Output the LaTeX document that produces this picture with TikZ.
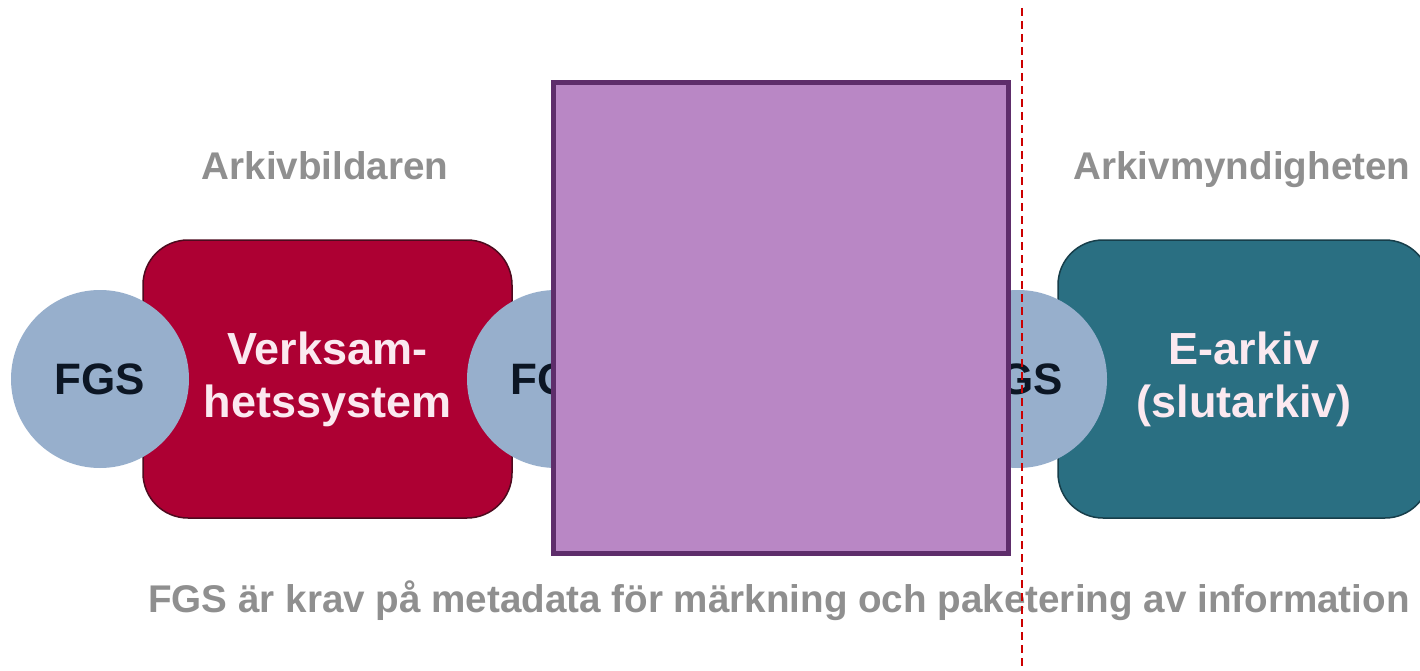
\documentclass[tikz,border=0pt]{standalone}
\usepackage{fontspec}
\setmainfont{Liberation Sans}
\definecolor{fgsblue}{HTML}{97AFCC}
\definecolor{redbox}{HTML}{AD0033}
\definecolor{redline}{HTML}{4E0A1E}
\definecolor{tealbox}{HTML}{2A6F82}
\definecolor{tealline}{HTML}{173E4A}
\definecolor{purplefill}{HTML}{B987C5}
\definecolor{purpleline}{HTML}{5E2D6B}
\definecolor{graytext}{HTML}{8F8F8F}
\definecolor{dashred}{HTML}{CC0000}
\definecolor{fgstext}{HTML}{0C1624}
\definecolor{boxtext}{HTML}{FBE9F0}
\tikzset{
  fgscirc/.style={circle, fill=fgsblue, minimum size=178pt, inner sep=0pt,
    font=\fontsize{44}{50}\selectfont\bfseries, text=fgstext},
  sysbox/.style={rounded corners=45pt, line width=1.5pt, minimum width=369pt,
    minimum height=278pt, inner sep=0pt, align=center,
    font=\fontsize{45}{53}\selectfont\bfseries},
  heading/.style={text=graytext, font=\fontsize{38.6}{44}\selectfont\bfseries, inner sep=0pt, anchor=base},
  cover/.style={fill=purplefill, draw=purpleline, line width=5pt, inner sep=0pt}
}
\begin{document}
\begin{tikzpicture}[x=1pt,y=-1pt]
\useasboundingbox (0,0) rectangle (1420,671);
\fill[white] (0,0) rectangle (1420,671);
% boxes
\node[sysbox, fill=redbox, draw=redline, text=boxtext] (vs) at (327.5,379) {Verksam-\\hetssystem};
\node[sysbox, fill=tealbox, draw=tealline, text=boxtext, minimum width=372pt] (ea) at (1244,379) {E-arkiv\\(slutarkiv)};
% circles
\node[fgscirc] (f1) at (100,379) {FGS};
\node[fgscirc] (f2) at (556,379) {FGS};
\node[fgscirc] (f3) at (1018,379) {FGS};
% headings
\node[heading] (h1) at (325,179) {Arkivbildaren};
\node[heading] (h2) at (1242,179) {Arkivmyndigheten};
\node[heading] (bt) at (779,612) {FGS är krav på metadata för märkning och paketering av information};
% purple cover
\node[cover, minimum width=455pt, minimum height=470pt] (pc) at (780.5,318) {};
% dashed line
\coordinate (dtop) at (1022,8);
\coordinate (dbot) at (1022,671);
\draw[dashred, line width=2.2pt, dash pattern=on 8pt off 5pt] (dtop) -- (dbot);
\end{tikzpicture}
\end{document}
